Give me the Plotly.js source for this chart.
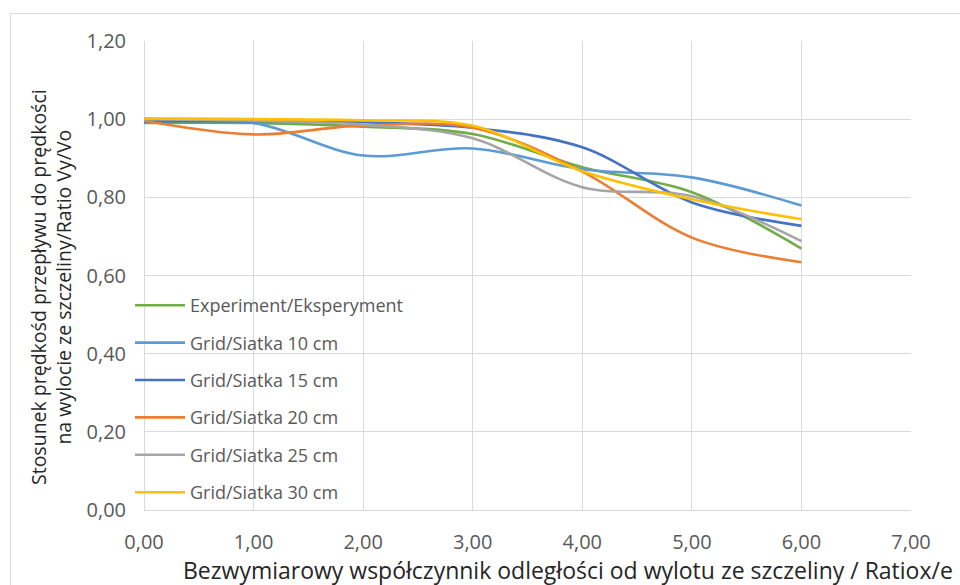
<!DOCTYPE html>
<html>
<head>
<meta charset="utf-8">
<script src="https://cdn.plot.ly/plotly-3.0.1.min.js"></script>
<style>html,body{margin:0;padding:0;background:#fff;}#chart{width:960px;height:585px;}</style>
</head>
<body>
<div id="chart"></div>
<script>
const xValues = [0, 1, 2, 3, 4, 5, 6];
const seriesNames = ["Experiment/Eksperyment", "Grid/Siatka 10 cm", "Grid/Siatka 15 cm", "Grid/Siatka 20 cm", "Grid/Siatka 25 cm", "Grid/Siatka 30 cm"];
const experiment = [0.990, 0.990, 0.981, 0.962, 0.877, 0.813, 0.669];
const grid10 = [0.992, 0.990, 0.907, 0.925, 0.872, 0.851, 0.779];
const grid15 = [0.995, 0.995, 0.992, 0.978, 0.928, 0.787, 0.727];
const grid20 = [0.996, 0.961, 0.984, 0.978, 0.866, 0.697, 0.634];
const grid25 = [1.000, 0.996, 0.986, 0.951, 0.826, 0.803, 0.688];
const grid30 = [1.002, 1.000, 0.997, 0.983, 0.867, 0.795, 0.744];
const seriesValues = [experiment, grid10, grid15, grid20, grid25, grid30];
const colors = ["#70AD47", "#5B9BD5", "#4472C4", "#ED7D31", "#A5A5A5", "#FFC000"];

const L = 144, R = 49, T = 41, B = 75, W = 960, H = 585;
const pw = W - L - R, ph = H - T - B;
const px = v => (v - L) / pw;
const py = v => (H - B - v) / ph;

const traces = seriesNames.map((n, i) => ({
  x: xValues, y: seriesValues[i], name: n, type: "scatter", mode: "lines",
  legendgroup: "g" + i,
  line: {color: colors[i], width: 2.6, shape: "spline", smoothing: 1}
}));

const font = "'Open Sans', 'Noto Sans', sans-serif";
const layout = {
  width: W, height: H,
  margin: {l: L, r: R, t: T, b: B, pad: 0},
  paper_bgcolor: "#fff", plot_bgcolor: "#fff",
  separators: ", ",
  font: {family: font, size: 20, color: "#595959"},
  xaxis: {range: [0, 7], dtick: 1, tick0: 0, tickformat: ".2f", showgrid: true, gridcolor: "#d9d9d9", gridwidth: 1,
          zeroline: true, zerolinecolor: "#d9d9d9", zerolinewidth: 1, showline: false, ticks: "", ticklabelstandoff: 18,
          tickfont: {family: font, size: 20, color: "#595959"}, fixedrange: true},
  yaxis: {range: [0, 1.2], dtick: 0.2, tick0: 0, tickformat: ".2f", showgrid: true, gridcolor: "#d9d9d9", gridwidth: 1,
          zeroline: true, zerolinecolor: "#d9d9d9", zerolinewidth: 1, showline: false, ticks: "", ticklabelstandoff: 17,
          tickfont: {family: font, size: 20, color: "#595959"}, fixedrange: true},
  showlegend: true,
  legend: {x: px(130), y: py(287), xanchor: "left", yanchor: "top", bgcolor: "rgba(0,0,0,0)",
           font: {family: font, size: 18, color: "#595959"}, tracegroupgap: 11, traceorder: "grouped", itemwidth: 50},
  shapes: [{type: "rect", xref: "paper", yref: "paper", x0: px(10.5), x1: px(975), y0: py(600), y1: py(13.5),
            line: {color: "#d9d9d9", width: 1}, fillcolor: "rgba(0,0,0,0)", layer: "below"}],
  annotations: [
    {xref: "paper", yref: "paper", x: px(568), y: py(570), xanchor: "center", yanchor: "middle", showarrow: false,
     text: "Bezwymiarowy współczynnik odległości od wylotu ze szczeliny / Ratiox/e",
     font: {family: font, size: 23, color: "#262626"}},
    {xref: "paper", yref: "paper", x: px(51), y: py(287), xanchor: "center", yanchor: "middle", showarrow: false, textangle: -90,
     text: "Stosunek prędkośd przepływu do prędkości<br>na wylocie ze szczeliny/Ratio Vy/Vo",
     font: {family: font, size: 19.5, color: "#262626"}}
  ]
};
Plotly.newPlot("chart", traces, layout, {displayModeBar: false, staticPlot: true});
</script>
</body>
</html>
